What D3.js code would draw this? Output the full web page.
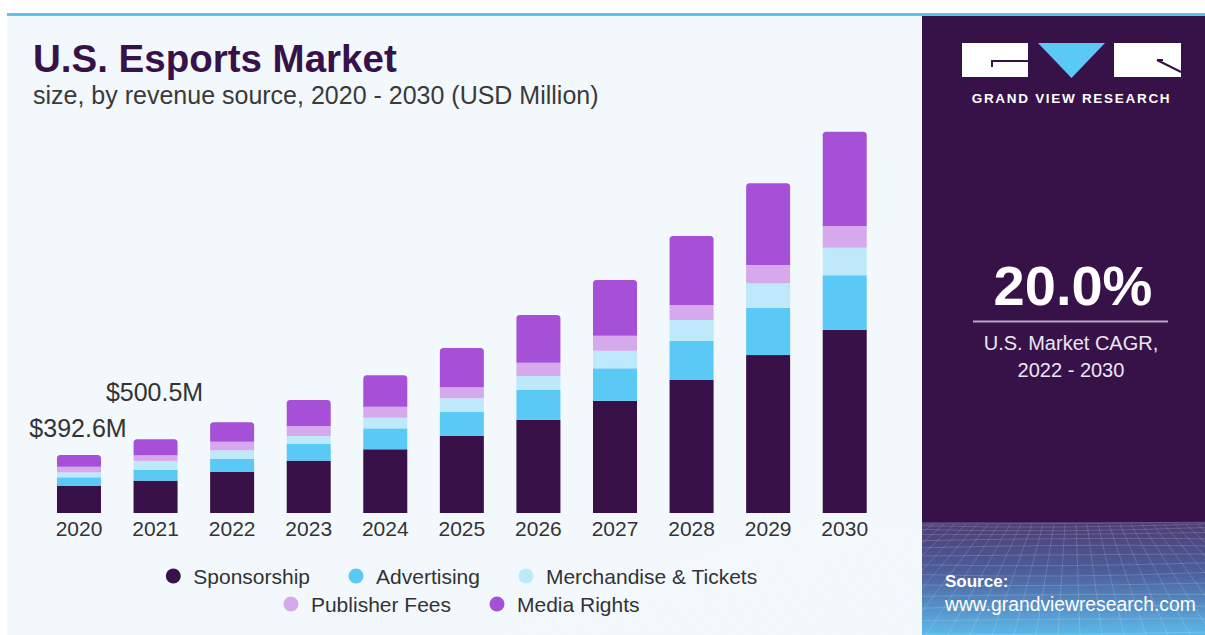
<!DOCTYPE html>
<html>
<head>
<meta charset="utf-8">
<script src="https://cdn.jsdelivr.net/npm/d3@7"></script>
<style>
  html, body { margin: 0; padding: 0; background: #ffffff; }
  svg { display: block; }
  text { font-family: "Liberation Sans", Arial, sans-serif; }
</style>
</head>
<body>
<svg id="chart" width="1205" height="635"></svg>
<script>
// U.S. esports market size by revenue source, USD million
const years = ["2020", "2021", "2022", "2023", "2024", "2025", "2026", "2027", "2028", "2029", "2030"];
const seriesNames = ["Sponsorship", "Advertising", "Merchandise & Tickets", "Publisher Fees", "Media Rights"];
const sponsorship = [183.2, 219.4, 278, 355, 432, 524, 631, 761, 902, 1071, 1241];
const advertising = [58.9, 72.6, 90, 113, 142, 163, 203, 220, 266, 321, 371];
const merchandise = [33.9, 61.1, 57, 54, 72, 91, 95, 119, 140, 165, 187];
const publisherFees = [37.9, 38.7, 58, 68, 75, 75, 90, 102, 102, 124, 147];
const mediaRights = [78.7, 108.7, 131.5, 176, 213, 266, 323, 378, 468, 554, 639];
const valueLabels = ["$392.6M", "$500.5M"];
const seriesColors = ["#371148", "#5bc9f5", "#bde9fa", "#d5a9ec", "#a550d6"];

const svg = d3.select("#chart");

// panels
svg.append("rect").attr("x", 7).attr("y", 15).attr("width", 915).attr("height", 620).attr("fill", "#f3f8fc");
svg.append("rect").attr("x", 922).attr("y", 15).attr("width", 283).attr("height", 620).attr("fill", "#371248");

// bottom of side panel: gradient with a mesh
const defs = svg.append("defs");
const grad = defs.append("linearGradient").attr("id", "meshGrad").attr("x1", 0).attr("y1", 0).attr("x2", 0).attr("y2", 1);
grad.append("stop").attr("offset", "0").attr("stop-color", "#4d3c74");
grad.append("stop").attr("offset", "0.45").attr("stop-color", "#4d5f9c");
grad.append("stop").attr("offset", "1").attr("stop-color", "#5cb9ea");
svg.append("rect").attr("x", 922).attr("y", 522).attr("width", 283).attr("height", 113).attr("fill", "url(#meshGrad)");
const mesh = svg.append("g").attr("stroke", "#ffffff").attr("stroke-opacity", 0.2).attr("fill", "none").attr("stroke-width", 0.8);
d3.range(0, 14).forEach(k => {
  const yy = 524 + 110 * Math.pow(k / 13, 1.6);
  mesh.append("path").attr("d", `M922,${yy} Q1060,${yy + 4 * Math.sin(k)} 1205,${yy - 2}`);
});
d3.range(-12, 30).forEach(k => {
  const xTop = 922 + k * 11;
  const xBot = 922 + k * 22 - 150;
  mesh.append("line").attr("x1", xTop).attr("y1", 524).attr("x2", xBot).attr("y2", 635);
});
svg.append("rect").attr("x", 1205).attr("y", 0).attr("width", 10).attr("height", 635).attr("fill", "#fff");

// top accent line
svg.append("rect").attr("x", 7).attr("y", 13).attr("width", 1198).attr("height", 3).attr("fill", "#5ec4ee");

// title
svg.append("text").attr("x", 33).attr("y", 72).attr("font-size", 38.5).attr("font-weight", 700)
  .attr("fill", "#37124a").text("U.S. Esports Market");
svg.append("text").attr("x", 33).attr("y", 104).attr("font-size", 25)
  .attr("fill", "#3a3a3a").text("size, by revenue source, 2020 - 2030 (USD Million)");

// scales
const x = d3.scaleBand().domain(years).range([40.7, 883]).paddingInner(0.4254).paddingOuter(0.2127);
const y = d3.scaleLinear().domain([0, 2600]).range([513, 513 - 2600 / 6.78]);

const table = years.map((yr, i) => ({
  year: yr,
  "Sponsorship": sponsorship[i],
  "Advertising": advertising[i],
  "Merchandise & Tickets": merchandise[i],
  "Publisher Fees": publisherFees[i],
  "Media Rights": mediaRights[i]
}));
const stacked = d3.stack().keys(seriesNames)(table);
const color = d3.scaleOrdinal().domain(seriesNames).range(seriesColors);

const lastKey = seriesNames[seriesNames.length - 1];
const r = 3.5;
stacked.forEach(layer => {
  const g = svg.append("g").attr("fill", color(layer.key));
  layer.forEach(d => {
    const x0 = x(d.data.year), w = x.bandwidth();
    const yTop = y(d[1]), yBot = y(d[0]);
    if (layer.key === lastKey) {
      g.append("path").attr("d",
        `M${x0},${yBot} L${x0},${yTop + r} Q${x0},${yTop} ${x0 + r},${yTop} L${x0 + w - r},${yTop} Q${x0 + w},${yTop} ${x0 + w},${yTop + r} L${x0 + w},${yBot} Z`);
    } else {
      g.append("rect").attr("x", x0).attr("y", yTop).attr("width", w).attr("height", yBot - yTop);
    }
  });
});

// year axis
const xAxis = svg.append("g").attr("transform", "translate(0,513)").call(d3.axisBottom(x).tickSize(0).tickPadding(0));
xAxis.select(".domain").remove();
xAxis.selectAll("text").attr("font-size", 21).attr("fill", "#333").attr("dy", 0).attr("y", 23)
  .attr("font-family", "Liberation Sans, Arial, sans-serif");

// total labels for the first two years
valueLabels.forEach((lab, i) => {
  const total = d3.sum(seriesNames, k => table[i][k]);
  svg.append("text").attr("x", x(years[i]) + x.bandwidth() / 2 - 1)
    .attr("y", y(total) - (i === 0 ? 18 : 38))
    .attr("text-anchor", "middle").attr("font-size", 25).attr("fill", "#333").text(lab);
});

// legend, two centred rows
const legendRows = [seriesNames.slice(0, 3), seriesNames.slice(3)];
const legendCenter = 461.5;
legendRows.forEach((row, ri) => {
  const ly = 576 + ri * 28;
  const g = svg.append("g");
  const items = row.map(name => {
    const ig = g.append("g");
    ig.append("circle").attr("cx", 0).attr("cy", 0).attr("r", 7.5).attr("fill", color(name));
    const t = ig.append("text").attr("x", 20).attr("y", 7.5).attr("font-size", 21).attr("fill", "#333").text(name);
    return { ig, w: 20 + t.node().getComputedTextLength() };
  });
  const gap = 46;
  const total = d3.sum(items, d => d.w) + gap * (items.length - 1) + 7.5;
  let cx = legendCenter - total / 2 + 7.5;
  items.forEach(it => {
    it.ig.attr("transform", `translate(${cx},${ly})`);
    cx += it.w + gap;
  });
});

// side panel: logo
const logo = svg.append("g");
logo.append("rect").attr("x", 962).attr("y", 43).attr("width", 66).attr("height", 34).attr("fill", "#ffffff");
logo.append("path").attr("d", "M1028,61 L992,61 L992,67").attr("stroke", "#371248").attr("stroke-width", 2).attr("fill", "none");
logo.append("path").attr("d", "M1038,43 L1105,43 L1071.5,78 Z").attr("fill", "#5bc9f5");
logo.append("rect").attr("x", 1114).attr("y", 43).attr("width", 67).attr("height", 34).attr("fill", "#ffffff");
logo.append("path").attr("d", "M1157,60 L1181,72 M1157,60 L1163,60").attr("stroke", "#371248").attr("stroke-width", 2).attr("fill", "none");
svg.append("text").attr("x", 1071.5).attr("y", 103).attr("text-anchor", "middle").attr("font-size", 13.5)
  .attr("font-weight", 700).attr("letter-spacing", 1.7).attr("fill", "#ffffff").text("GRAND VIEW RESEARCH");

// side panel: CAGR
svg.append("text").attr("x", 1073).attr("y", 305).attr("text-anchor", "middle").attr("font-size", 56)
  .attr("font-weight", 700).attr("fill", "#ffffff").text("20.0%");
svg.append("line").attr("x1", 973).attr("x2", 1168).attr("y1", 321.5).attr("y2", 321.5)
  .attr("stroke", "#b9a7c9").attr("stroke-width", 2);
svg.append("text").attr("x", 1071).attr("y", 350).attr("text-anchor", "middle").attr("font-size", 20)
  .attr("fill", "#ece6f2").text("U.S. Market CAGR,");
svg.append("text").attr("x", 1071).attr("y", 377).attr("text-anchor", "middle").attr("font-size", 20)
  .attr("fill", "#ece6f2").text("2022 - 2030");

// side panel: source
svg.append("text").attr("x", 945).attr("y", 587).attr("font-size", 17).attr("font-weight", 700)
  .attr("fill", "#ffffff").text("Source:");
svg.append("text").attr("x", 945).attr("y", 611).attr("font-size", 19.3)
  .attr("fill", "#ffffff").text("www.grandviewresearch.com");
</script>
</body>
</html>
